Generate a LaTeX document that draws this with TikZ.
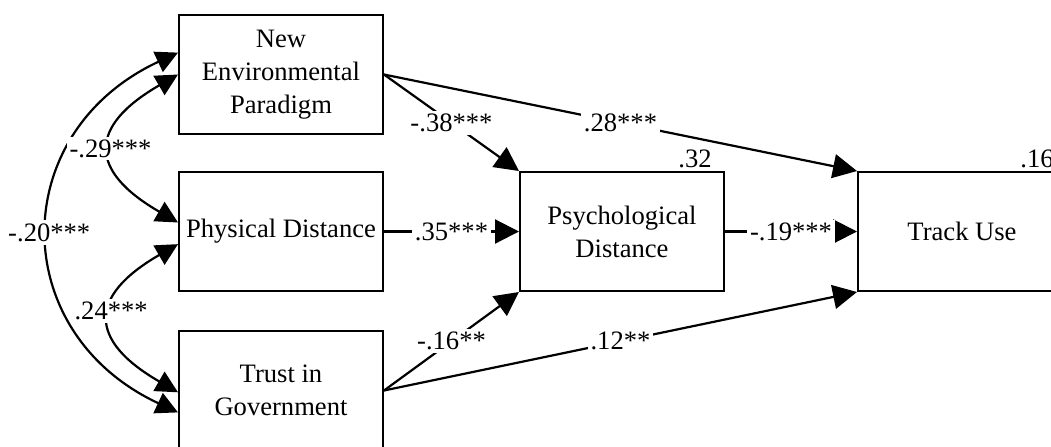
\documentclass[tikz,border=0pt]{standalone}
\usepackage{fontspec}
\setmainfont{Liberation Serif}
\usetikzlibrary{arrows.meta}

\begin{document}
\begin{tikzpicture}[x=0.5pt, y=-0.5pt,
    var/.style={draw, line width=1pt, minimum width=102pt, minimum height=59.5pt,
      inner sep=0pt, align=center, font=\fontsize{13.3}{16.5}\selectfont},
    path/.style={line width=1.1pt, -{Triangle[length=12pt,width=12pt]}},
    cov/.style={line width=1.1pt, {Triangle[length=11pt,width=11pt]}-{Triangle[length=11pt,width=11pt]}},
    coef/.style={fill=white, inner sep=1.5pt, font=\fontsize{13.3}{16}\selectfont}]
  \useasboundingbox (0,0) rectangle (1051,446);
  % observed variables
  \node[var] (nep) at (281,74.5) {New\\Environmental\\Paradigm};
  \node[var] (phys) at (281,231.5) {Physical Distance};
  \node[var] (trust) at (281,390.5) {Trust in\\Government};
  \node[var] (psych) at (622,231.5) {Psychological\\Distance};
  \node[var, minimum width=104pt] (track) at (962,231.5) {Track Use};
  % explained variance
  \node[coef, anchor=south east, fill=none] (r2psych) at ([xshift=-5pt]psych.north east) {.32};
  \node[coef, anchor=south east, fill=none] (r2track) at ([xshift=-5pt]track.north east) {.16};
  % paths
  \draw[path] (nep.east) -- node[coef] {-.38***} (psych.north west);
  \draw[path] (nep.east) -- node[coef] {.28***} (track.north west);
  \draw[path] (phys.east) -- node[coef] {.35***} (psych.west);
  \draw[path] (psych.east) -- node[coef] {-.19***} (track.west);
  \draw[path] (trust.east) -- node[coef] {-.16**} (psych.south west);
  \draw[path] (trust.east) -- node[coef] {.12**} (track.south west);
  % correlations
  \draw[cov] (nep.168) to[out=205, in=155, looseness=1.35] node[coef] {-.20***} (trust.192);
  \draw[cov] (nep.west) to[out=210, in=150, looseness=1.8] node[coef] {-.29***} (phys.175);
  \draw[cov] (phys.187) to[out=210, in=150, looseness=1.8] node[coef, pos=0.45] {.24***} (trust.181);
\end{tikzpicture}
\end{document}
